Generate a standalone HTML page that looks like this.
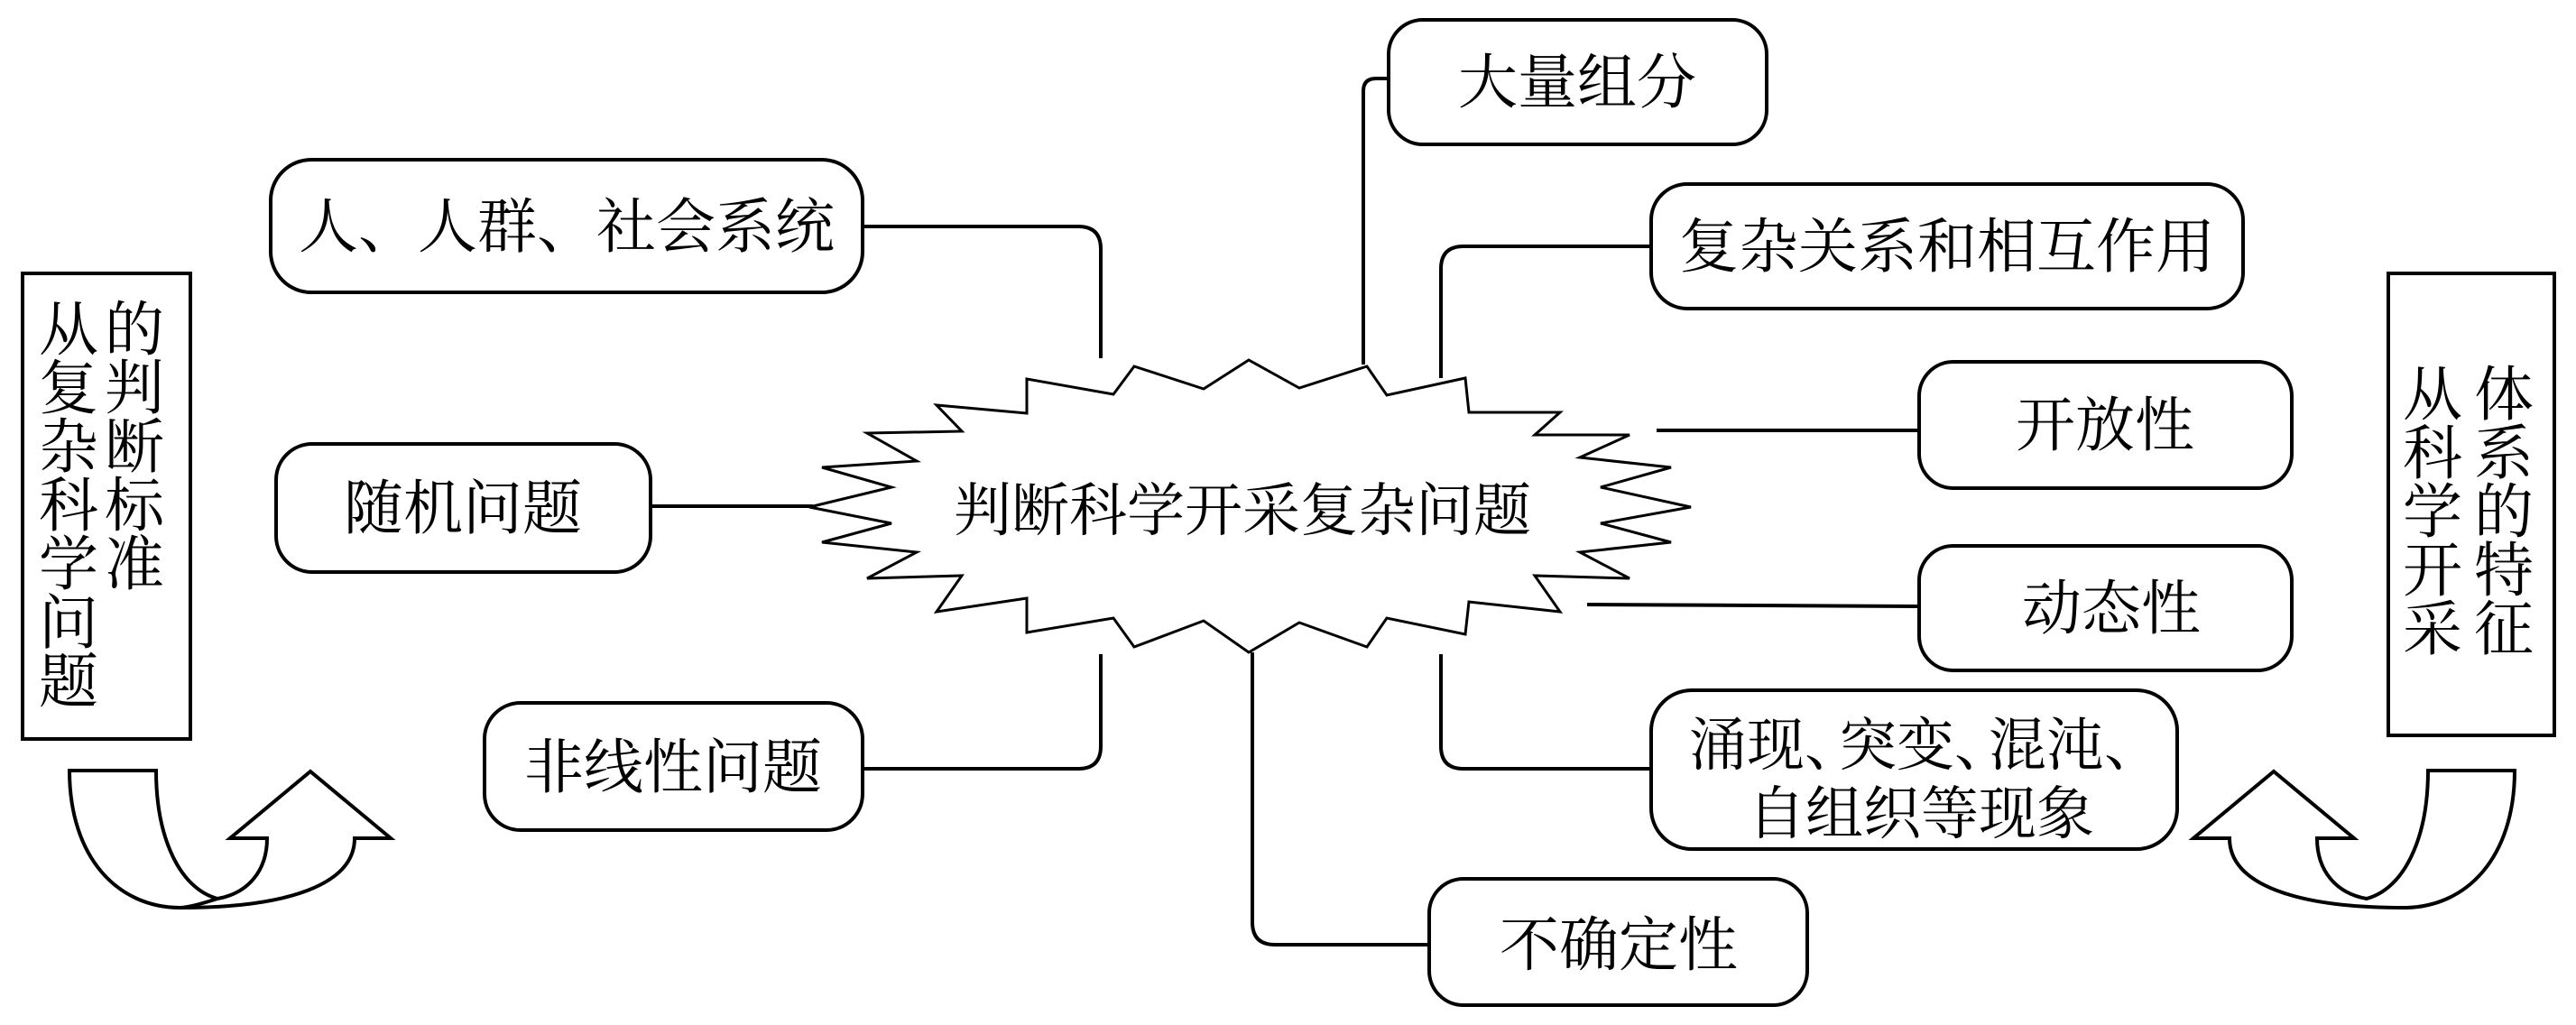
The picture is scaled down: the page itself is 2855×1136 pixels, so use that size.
<!DOCTYPE html>
<html><head><meta charset="utf-8"><style>
html,body{margin:0;padding:0;background:#fff;}
svg{display:block;}
text{font-family:"Liberation Serif","Noto Serif CJK SC",serif;fill:#000;}
</style></head><body>
<svg width="2855" height="1136" viewBox="0 0 2855 1136" xmlns="http://www.w3.org/2000/svg">
<g fill="none" stroke="#000" stroke-width="4">
<!-- connectors left -->
<path d="M956,251 L1195,251 Q1220,251 1220,276 L1220,397"/>
<path d="M721,561 L901,561"/>
<path d="M956,852 L1195,852 Q1220,852 1220,827 L1220,725"/>
<!-- connectors right -->
<path d="M1539,87 L1525,87 Q1511,87 1511,101 L1511,404"/>
<path d="M1830,273 L1622,273 Q1597,273 1597,298 L1597,419"/>
<path d="M1836,477 L2127,477"/>
<path d="M1759,670 L2127,672"/>
<path d="M1597,725 L1597,827 Q1597,852 1622,852 L1830,852"/>
<path d="M1388,723 L1388,1022 Q1388,1047 1413,1047 L1584,1047"/>
</g>
<!-- starburst -->
<polygon fill="#fff" stroke="#000" stroke-width="3" points="1384,399 1440,430 1515,406 1537,438 1624,419 1628,457 1729,457 1701,482 1806,482 1751,507 1852,518 1774,540 1874,562 1774,580 1852,601 1751,612 1806,641 1701,638 1729,678 1628,667 1624,703 1537,685 1515,717 1440,690 1384,723 1334,688 1257,717 1234,685 1138,701 1138,663 1038,678 1066,638 961,641 1016,612 911,601 988,580 897,562 988,540 911,518 1016,511 961,480 1066,478 1038,449 1138,458 1138,420 1234,437 1257,406 1334,431"/>
<text x="1377" y="588" font-size="64" text-anchor="middle">判断科学开采复杂问题</text>
<!-- boxes -->
<g fill="#fff" stroke="#000" stroke-width="4">
<rect x="300" y="177" width="656" height="147" rx="45"/>
<rect x="306" y="492" width="415" height="142" rx="40"/>
<rect x="537" y="779" width="419" height="141" rx="40"/>
<rect x="1539" y="22" width="419" height="138" rx="38"/>
<rect x="1830" y="204" width="656" height="138" rx="40"/>
<rect x="2127" y="401" width="413" height="140" rx="38"/>
<rect x="2127" y="605" width="413" height="138" rx="38"/>
<rect x="1830" y="765" width="583" height="176" rx="45"/>
<rect x="1584" y="974" width="419" height="140" rx="38"/>
<rect x="25" y="303" width="186" height="516"/>
<rect x="2647" y="303" width="184" height="512"/>
</g>
<g font-size="66" text-anchor="middle">
<text x="628" y="274">人、人群、社会系统</text>
<text x="513" y="586">随机问题</text>
<text x="746" y="873">非线性问题</text>
<text x="1748" y="114">大量组分</text>
<text x="2158" y="296">复杂关系和相互作用</text>
<text x="2333" y="494">开放性</text>
<text x="2340" y="697">动态性</text>
<text x="1794" y="1070">不确定性</text>
</g>
<text x="2121" y="848" font-size="64" text-anchor="middle">涌现<tspan letter-spacing="-26">、</tspan>突变<tspan letter-spacing="-26">、</tspan>混沌<tspan letter-spacing="-26">、</tspan></text>
<text x="2129" y="924" font-size="64" text-anchor="middle">自组织等现象</text>
<!-- vertical text left -->
<g font-size="66" text-anchor="middle">
<text x="76" y="388">从</text><text x="76" y="453">复</text><text x="76" y="518">杂</text><text x="76" y="583">科</text><text x="76" y="648">学</text><text x="76" y="713">问</text><text x="76" y="778">题</text>
<text x="149" y="388">的</text><text x="149" y="453">判</text><text x="149" y="518">断</text><text x="149" y="583">标</text><text x="149" y="648">准</text>
<text x="2696" y="460">从</text><text x="2696" y="525">科</text><text x="2696" y="590">学</text><text x="2696" y="655">开</text><text x="2696" y="720">采</text>
<text x="2775" y="460">体</text><text x="2775" y="525">系</text><text x="2775" y="590">的</text><text x="2775" y="655">特</text><text x="2775" y="720">征</text>
</g>
<!-- curved arrows -->
<g id="arr" fill="#fff" stroke="#000" stroke-width="4" stroke-linejoin="miter">
<path d="M77,854 L173,854 C173,930 200,985 241,996 C275,990 296,965 296,929 L255,929 L344,855 L433,929 L393,929 C393,980 320,1006 200,1006 C130,1006 77,950 77,854 Z"/>
<path d="M241,996 C225,1001 212,1005 200,1006"/>
</g>
<g transform="translate(2864,0) scale(-1,1)">
<path fill="#fff" stroke="#000" stroke-width="4" d="M77,854 L173,854 C173,930 200,985 241,996 C275,990 296,965 296,929 L255,929 L344,855 L433,929 L393,929 C393,980 320,1006 200,1006 C130,1006 77,950 77,854 Z"/>
</g>
</svg>
</body></html>
